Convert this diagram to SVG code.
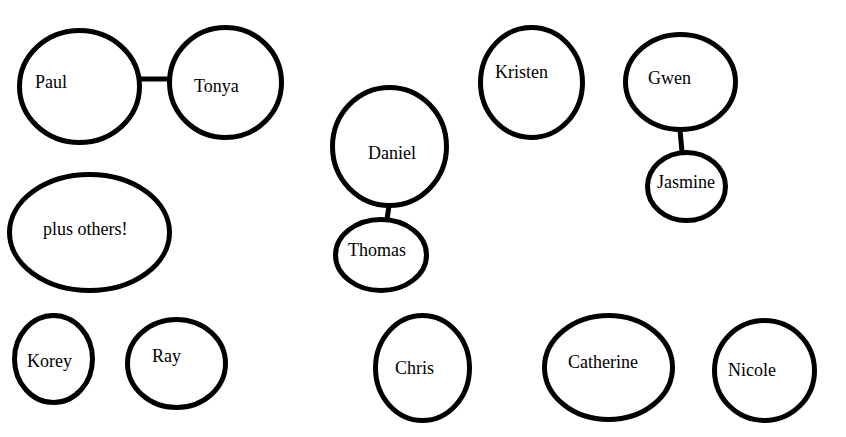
<svg xmlns="http://www.w3.org/2000/svg" width="846" height="437" viewBox="0 0 846 437">
<style>
.n ellipse{fill:#fff;stroke:#000;stroke-width:5}
.n text{font-family:"Liberation Serif","Times New Roman",serif;font-size:18px;fill:#000}
.c line{stroke:#000;stroke-width:5}
</style>
<rect width="846" height="437" fill="#fff"/>
<g id="connectors" class="c">
<line x1="140" y1="79" x2="169" y2="79"/>
<line x1="389" y1="206" x2="387" y2="219"/>
<line x1="680" y1="130" x2="682" y2="152"/>
</g>
<g id="paul" class="n"><ellipse cx="79.5" cy="86.5" rx="60" ry="56"/><text x="35" y="88">Paul</text></g>
<g id="tonya" class="n"><ellipse cx="225.5" cy="82.5" rx="56" ry="55"/><text x="194" y="92">Tonya</text></g>
<g id="daniel" class="n"><ellipse cx="389.5" cy="146.5" rx="57" ry="59"/><text x="368" y="159">Daniel</text></g>
<g id="thomas" class="n"><ellipse cx="381" cy="255" rx="45.5" ry="35.5"/><text x="348" y="256">Thomas</text></g>
<g id="kristen" class="n"><ellipse cx="531.5" cy="82.5" rx="51" ry="55"/><text x="495" y="78">Kristen</text></g>
<g id="gwen" class="n"><ellipse cx="680.5" cy="82" rx="55" ry="47.5"/><text x="648" y="84">Gwen</text></g>
<g id="jasmine" class="n"><ellipse cx="686.5" cy="186.5" rx="39" ry="34"/><text x="657" y="188">Jasmine</text></g>
<g id="plus-others" class="n"><ellipse cx="89.5" cy="232.5" rx="80" ry="58"/><text x="43" y="235">plus others!</text></g>
<g id="korey" class="n"><ellipse cx="53.5" cy="359" rx="39" ry="43.5"/><text x="27" y="367">Korey</text></g>
<g id="ray" class="n"><ellipse cx="176.5" cy="363.5" rx="49" ry="44"/><text x="152" y="362">Ray</text></g>
<g id="chris" class="n"><ellipse cx="422.5" cy="368" rx="47" ry="52.5"/><text x="395" y="374">Chris</text></g>
<g id="catherine" class="n"><ellipse cx="608.5" cy="367.5" rx="64" ry="52"/><text x="568" y="368">Catherine</text></g>
<g id="nicole" class="n"><ellipse cx="764.5" cy="370.5" rx="50" ry="50"/><text x="728" y="376">Nicole</text></g>
</svg>
